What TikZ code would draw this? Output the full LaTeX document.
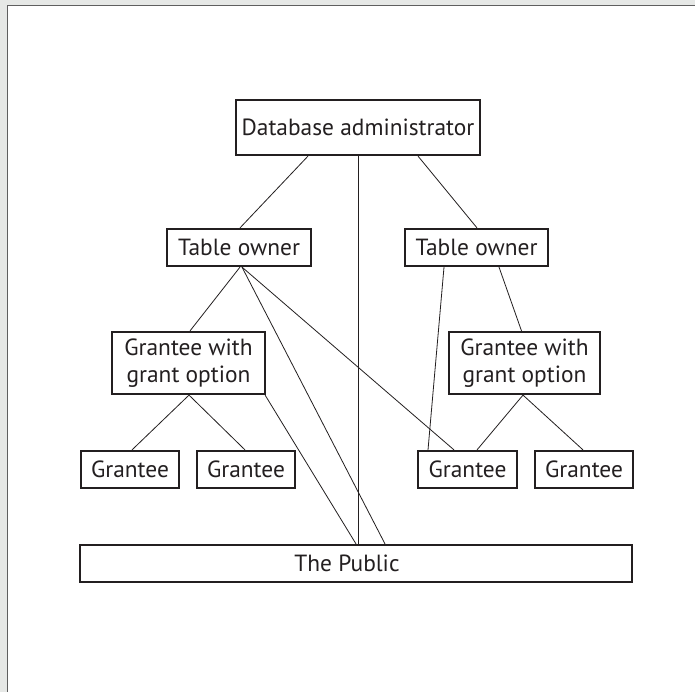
\documentclass[tikz,border=0pt]{standalone}
\usepackage{fontspec}
\setmainfont{PT Sans}
\definecolor{ink}{HTML}{231F20}
\definecolor{outer}{HTML}{E6E8E6}
\definecolor{frame}{HTML}{5F5F5F}
\begin{document}
\begin{tikzpicture}[x=1pt,y=-1pt,
  box/.style={draw=ink,line width=2.2pt,text=ink,inner sep=0pt,
    font=\fontsize{23.4}{26.5}\selectfont,align=center,minimum height=37pt},
  link/.style={draw=ink,line width=0.8pt}]
\useasboundingbox (0,0) rectangle (695,692);
\clip (0,0) rectangle (695,692);
\fill[outer] (0,0) rectangle (695,692);
\filldraw[fill=white,draw=frame,line width=1.5pt] (7.5,5.5) rectangle (720,720);

\node[box,minimum width=244pt,minimum height=55pt] (dba) at (358,127.5) {Database administrator};
\node[box,minimum width=144pt] (to1) at (239,247.5) {Table owner};
\node[box,minimum width=143pt] (to2) at (476.5,247.5) {Table owner};
\node[box,minimum width=153pt,minimum height=62pt] (gw1) at (188.5,363) {Grantee with\\grant option};
\node[box,minimum width=151pt,minimum height=62pt] (gw2) at (524.5,363) {Grantee with\\grant option};
\node[box,minimum width=98pt] (g1) at (130,469.5) {Grantee};
\node[box,minimum width=98pt] (g2) at (246,469.5) {Grantee};
\node[box,minimum width=99pt] (g3) at (467.5,469.5) {Grantee};
\node[box,minimum width=98pt] (g4) at (584,469.5) {Grantee};
\node[box,minimum width=552pt] (pub) at (356,563.5) {The Public\hspace*{18pt}};

\draw[link] ([xshift=-50pt]dba.south) -- ([xshift=1pt]to1.north);
\draw[link] (dba.south) -- ([xshift=2pt]pub.north);
\draw[link] ([xshift=60pt]dba.south) -- ([xshift=0.5pt]to2.north);
\draw[link] ([xshift=1pt]to1.south) -- ([xshift=1.5pt]gw1.north);
\draw[link] ([xshift=3pt]to1.south) -- ([xshift=29pt]pub.north);
\draw[link] ([xshift=3pt]to1.south) -- ([xshift=-13.5pt]g3.north);
\draw[link] ([xshift=-1pt]gw1.south east) -- ([xshift=0pt]pub.north);
\draw[link] ([xshift=0.5pt]gw1.south) -- ([xshift=2pt]g1.north);
\draw[link] ([xshift=0.5pt]gw1.south) -- ([xshift=-1pt]g2.north);
\draw[link] ([xshift=-32.5pt]to2.south) -- ([xshift=-39.5pt]g3.north);
\draw[link] ([xshift=22.5pt]to2.south) -- ([xshift=-3pt]gw2.north);
\draw[link] ([xshift=-1.5pt]gw2.south) -- ([xshift=9.5pt]g3.north);
\draw[link] ([xshift=-1.5pt]gw2.south) -- ([xshift=-1pt]g4.north);
\end{tikzpicture}
\end{document}
